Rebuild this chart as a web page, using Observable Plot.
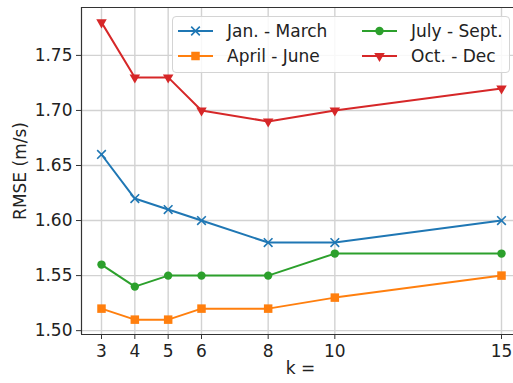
<!DOCTYPE html>
<html>
<head>
<meta charset="utf-8">
<script src="https://cdn.jsdelivr.net/npm/d3@7"></script>
<script src="https://cdn.jsdelivr.net/npm/@observablehq/plot@0.6"></script>
<style>
  body { margin: 0; background: #fff; }
  #chart { position: relative; width: 513px; height: 383px; font-family: "DejaVu Sans", sans-serif; color: #222; }
  #legend { position: absolute; left: 172px; top: 16px; width: 338px; height: 57px; box-sizing: border-box;
            border: 1px solid #d4d4d4; border-radius: 4px; background: rgba(255,255,255,0.85); }
  #legend svg { position: absolute; left: 0; top: 0; }
</style>
</head>
<body>
<div id="chart"><div id="legend"></div></div>
<script>
// Number of neighbours k and RMSE per season
const kValues = [3, 4, 5, 6, 8, 10, 15];
const seasons = ["Jan. - March", "April - June", "July - Sept.", "Oct. - Dec"];
const janMar = [1.66, 1.62, 1.61, 1.60, 1.58, 1.58, 1.60];
const aprJun = [1.52, 1.51, 1.51, 1.52, 1.52, 1.53, 1.55];
const julSep = [1.56, 1.54, 1.55, 1.55, 1.55, 1.57, 1.57];
const octDec = [1.78, 1.73, 1.73, 1.70, 1.69, 1.70, 1.72];
const yTicks = [1.50, 1.55, 1.60, 1.65, 1.70, 1.75];

const series = [janMar, aprJun, julSep, octDec];
const colors = ["#1f77b4", "#ff7f0e", "#2ca02c", "#d62728"];
const symbols = ["times", "square", "circle", "triangle"];
const radii = [4, 4.8, 4.2, 3.9];
const fontSize = 17;

const rows = seasons.flatMap((s, i) => kValues.map((k, j) => ({season: s, idx: i, k, rmse: series[i][j]})));

const xDomain = [2.4, 15.36];
const yDomain = [1.4965, 1.7935];
const gridColor = "#d2d2d2";
const spine = "#333";

const markLayers = seasons.map((s, i) => {
  const d = rows.filter(r => r.idx === i);
  const filled = symbols[i] !== "times";
  return [
    Plot.line(d, {x: "k", y: "rmse", stroke: colors[i], strokeWidth: 2}),
    Plot.dot(d, {
      x: "k", y: "rmse", symbol: () => symbols[i], r: radii[i],
      fill: filled ? colors[i] : "none",
      stroke: colors[i], strokeWidth: filled ? 0 : 1.6,
      rotate: symbols[i] === "triangle" ? 180 : 0
    })
  ];
});

const chart = Plot.plot({
  width: 513,
  height: 383,
  marginLeft: 81,
  marginRight: 0,
  marginTop: 7,
  marginBottom: 49,
  style: {fontFamily: "DejaVu Sans, sans-serif", fontSize: `${fontSize}px`, color: "#222", background: "transparent"},
  x: {domain: xDomain},
  y: {domain: yDomain},
  marks: [
    Plot.ruleX(kValues, {stroke: gridColor, strokeWidth: 1.4}),
    Plot.ruleY(yTicks, {stroke: gridColor, strokeWidth: 1.4}),
    ...markLayers.flat(),
    Plot.ruleX([xDomain[0]], {stroke: spine, strokeWidth: 1.2}),
    Plot.ruleY(yDomain, {stroke: spine, strokeWidth: 1.2}),
    Plot.axisX({ticks: kValues, tickSize: 5, tickPadding: 5, stroke: spine, label: null, fontSize, tickFormat: d => String(d)}),
    Plot.axisY({ticks: yTicks, tickSize: 5, tickPadding: 4, stroke: spine, label: null, fontSize, tickFormat: d3.format(".2f")}),
    Plot.text(["k ="], {frameAnchor: "bottom", dy: 39, dx: 3, fontSize, fill: "#222"}),
    Plot.text(["RMSE (m/s)"], {frameAnchor: "left", textAnchor: "middle", dx: -61, rotate: -90, fontSize, fill: "#222"})
  ]
});
document.getElementById("chart").prepend(chart);

// Legend: two columns, two rows
const legend = d3.select("#legend").append("svg").attr("width", 338).attr("height", 57);
const symbolTypes = {times: d3.symbolTimes, square: d3.symbolSquare, circle: d3.symbolCircle, triangle: d3.symbolTriangle};
seasons.forEach((s, i) => {
  const col = i < 2 ? 0 : 1;
  const row = i % 2;
  const x0 = col === 0 ? 5 : 189;
  const y0 = row === 0 ? 14 : 39;
  const g = legend.append("g").attr("transform", `translate(${x0},${y0})`);
  g.append("line").attr("x1", 0).attr("x2", 35).attr("y1", 0).attr("y2", 0)
    .attr("stroke", colors[i]).attr("stroke-width", 2);
  const filled = symbols[i] !== "times";
  g.append("path")
    .attr("d", d3.symbol(symbolTypes[symbols[i]], Math.PI * radii[i] * radii[i])())
    .attr("transform", `translate(17.5,0)${symbols[i] === "triangle" ? " rotate(180)" : ""}`)
    .attr("fill", filled ? colors[i] : "none")
    .attr("stroke", filled ? "none" : colors[i])
    .attr("stroke-width", 1.6);
  g.append("text").attr("x", 49).attr("y", 0).attr("dy", "0.35em")
    .attr("font-family", "DejaVu Sans, sans-serif").attr("font-size", fontSize).attr("fill", "#222")
    .text(s);
});
</script>
</body>
</html>
